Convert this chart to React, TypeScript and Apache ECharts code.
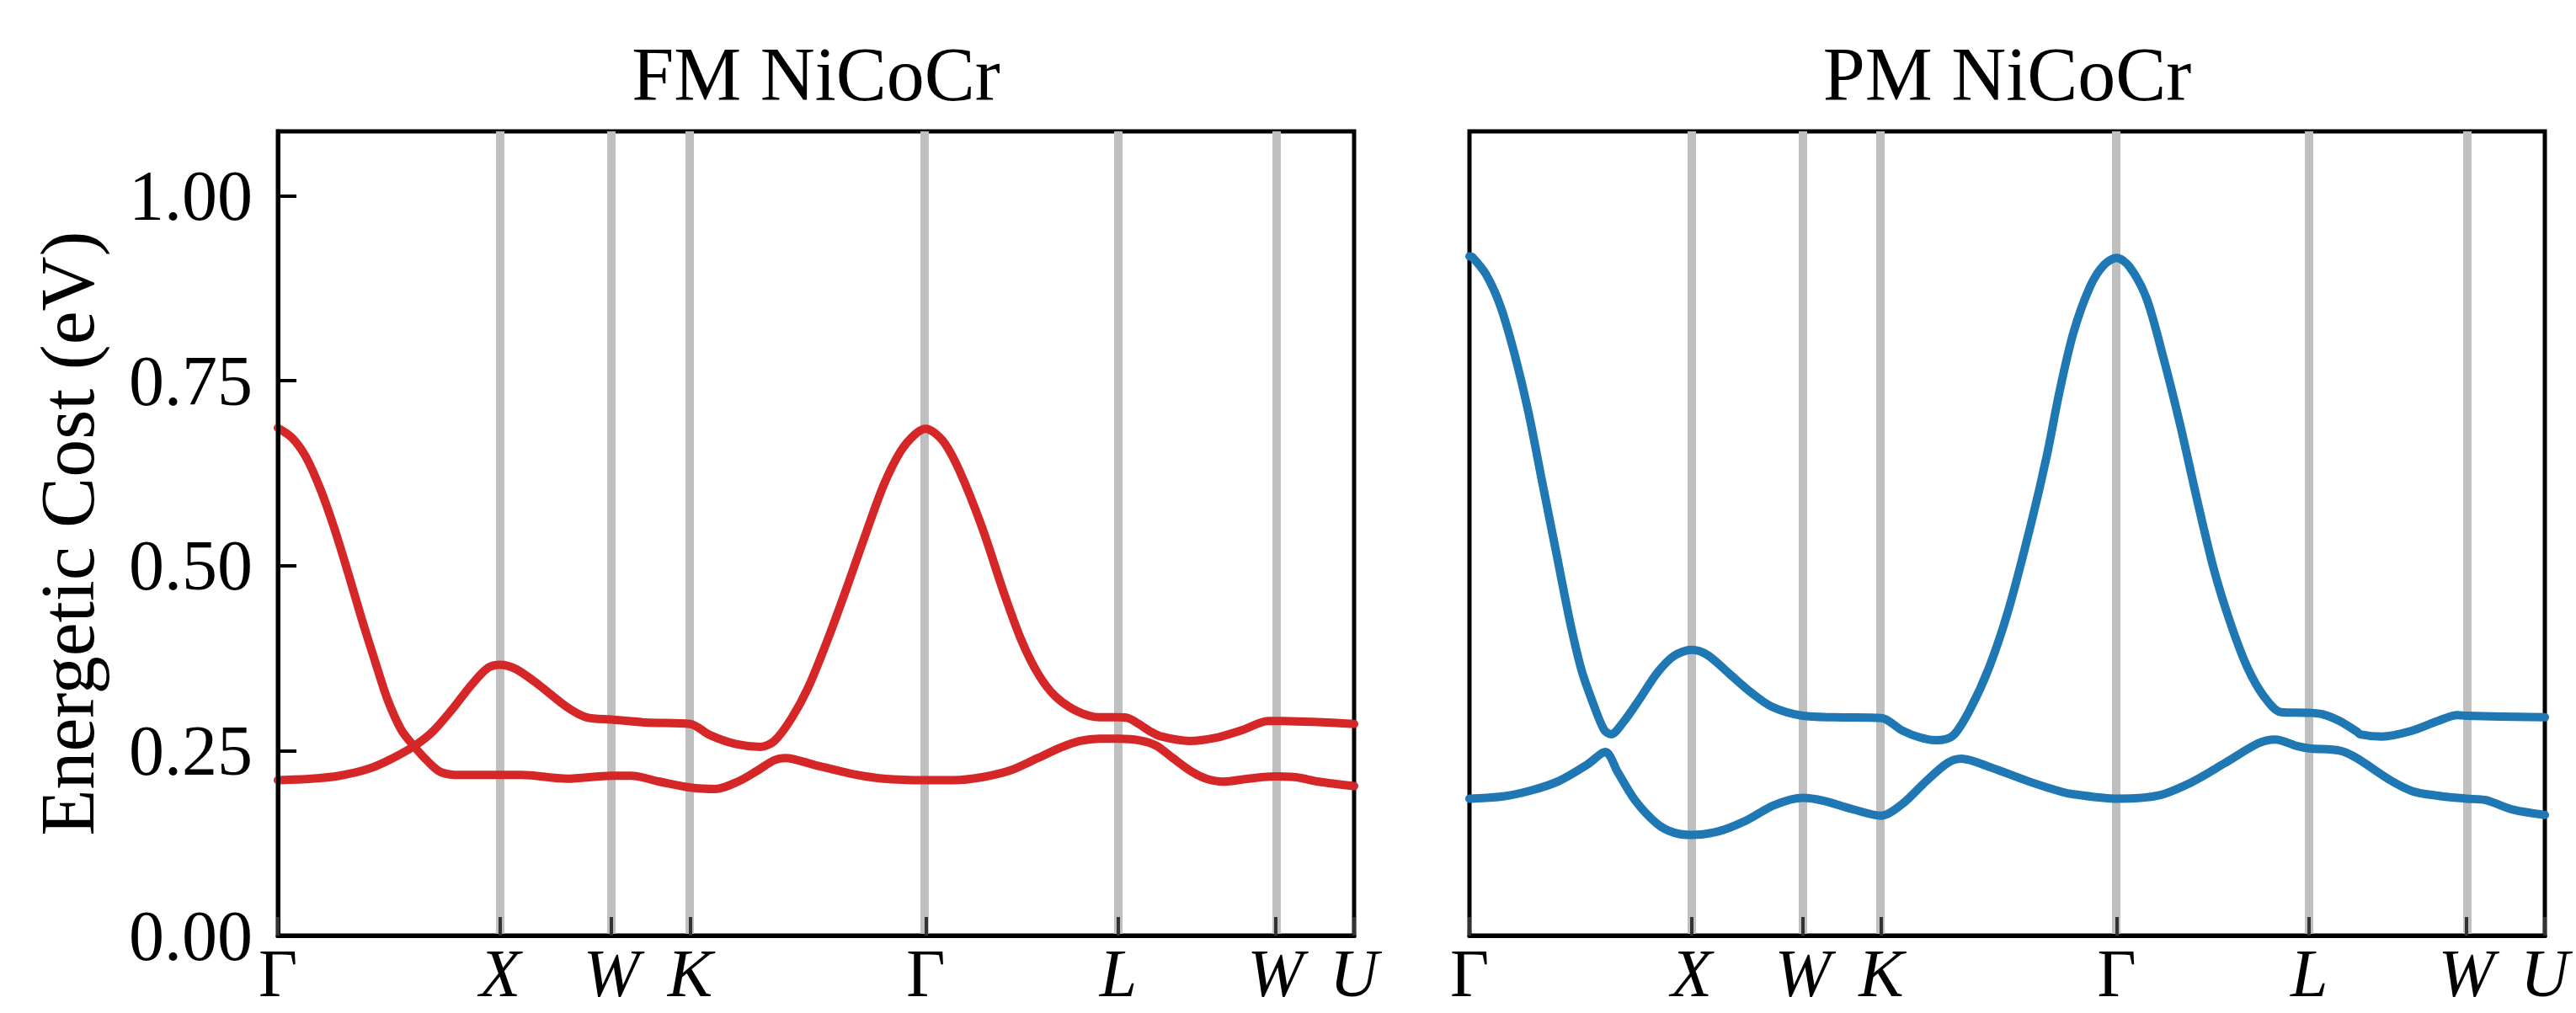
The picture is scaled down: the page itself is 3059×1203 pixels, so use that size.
import React, { useEffect, useRef } from "react";
import * as echarts from "echarts";

// High-symmetry points (cumulative path length, FCC: Γ-X-W-K-Γ-L-W-U)
const kPositions = [0, 1, 1.5, 1.8536, 2.9142, 3.7802, 4.4873, 4.8409];
const kLabels = ["Γ", "X", "W", "K", "Γ", "L", "W", "U"];
const kItalic = [false, true, true, true, false, true, true, true];
const yTicks = [0, 0.25, 0.5, 0.75, 1.0];
const panelTitles = ["FM NiCoCr", "PM NiCoCr"];
const yAxisTitle = "Energetic Cost (eV)";

// FM branch starting high at Γ
const fmAk = [0, 0.063, 0.126, 0.189, 0.252, 0.315, 0.379, 0.442, 0.492, 0.555, 0.612, 0.669, 0.732, 0.82, 1.0, 1.098, 1.3, 1.5, 1.59, 1.716, 1.854, 1.968, 2.069, 2.157, 2.233, 2.284, 2.41, 2.574, 2.725, 2.914, 3.04, 3.167, 3.293, 3.419, 3.52, 3.608, 3.697, 3.78, 3.873, 3.949, 4.025, 4.113, 4.176, 4.252, 4.365, 4.487, 4.58, 4.681, 4.841];
const fmAE = [0.686, 0.673, 0.647, 0.605, 0.552, 0.491, 0.426, 0.366, 0.32, 0.278, 0.256, 0.237, 0.221, 0.217, 0.217, 0.217, 0.212, 0.216, 0.216, 0.208, 0.2, 0.198, 0.208, 0.223, 0.237, 0.24, 0.231, 0.219, 0.212, 0.21, 0.21, 0.214, 0.223, 0.24, 0.254, 0.263, 0.266, 0.266, 0.264, 0.257, 0.24, 0.221, 0.212, 0.208, 0.212, 0.215, 0.214, 0.208, 0.202];
// FM branch starting low at Γ
const fmBk = [0, 0.151, 0.277, 0.404, 0.505, 0.612, 0.694, 0.782, 0.871, 0.946, 1.0, 1.072, 1.173, 1.3, 1.388, 1.5, 1.653, 1.854, 1.943, 2.057, 2.17, 2.233, 2.309, 2.385, 2.473, 2.561, 2.65, 2.725, 2.8, 2.864, 2.914, 2.99, 3.066, 3.167, 3.268, 3.343, 3.419, 3.495, 3.596, 3.697, 3.78, 3.823, 3.873, 3.924, 3.974, 4.1, 4.214, 4.34, 4.454, 4.487, 4.841];
const fmBE = [0.21, 0.212, 0.216, 0.225, 0.238, 0.256, 0.275, 0.305, 0.339, 0.362, 0.366, 0.36, 0.339, 0.309, 0.295, 0.292, 0.288, 0.286, 0.271, 0.259, 0.255, 0.263, 0.293, 0.335, 0.4, 0.472, 0.548, 0.609, 0.654, 0.677, 0.685, 0.669, 0.628, 0.552, 0.461, 0.4, 0.354, 0.324, 0.303, 0.295, 0.295, 0.294, 0.286, 0.276, 0.269, 0.263, 0.267, 0.278, 0.29, 0.29, 0.286];
// PM upper branch
const pmUk = [0, 0.013, 0.076, 0.139, 0.202, 0.265, 0.328, 0.391, 0.454, 0.505, 0.555, 0.606, 0.637, 0.694, 0.769, 0.845, 0.921, 1.0, 1.072, 1.173, 1.27, 1.363, 1.5, 1.647, 1.854, 1.949, 2.025, 2.101, 2.176, 2.252, 2.34, 2.429, 2.53, 2.6, 2.656, 2.719, 2.795, 2.858, 2.914, 2.971, 3.047, 3.123, 3.198, 3.274, 3.35, 3.426, 3.501, 3.577, 3.653, 3.78, 3.842, 3.917, 3.993, 4.01, 4.107, 4.233, 4.359, 4.447, 4.487, 4.841];
const pmUE = [0.918, 0.917, 0.893, 0.851, 0.787, 0.708, 0.612, 0.517, 0.422, 0.358, 0.315, 0.278, 0.272, 0.289, 0.321, 0.355, 0.378, 0.386, 0.379, 0.353, 0.328, 0.309, 0.297, 0.295, 0.294, 0.277, 0.268, 0.264, 0.27, 0.305, 0.363, 0.443, 0.559, 0.65, 0.735, 0.815, 0.878, 0.907, 0.916, 0.904, 0.862, 0.782, 0.692, 0.591, 0.496, 0.422, 0.363, 0.323, 0.302, 0.301, 0.299, 0.29, 0.276, 0.272, 0.269, 0.276, 0.29, 0.298, 0.297, 0.295];
// PM lower branch
const pmLk = [0, 0.151, 0.277, 0.404, 0.53, 0.612, 0.669, 0.745, 0.845, 0.921, 1.0, 1.123, 1.249, 1.37, 1.5, 1.596, 1.722, 1.854, 1.949, 2.05, 2.151, 2.214, 2.34, 2.53, 2.668, 2.719, 2.914, 3.097, 3.249, 3.4, 3.552, 3.627, 3.728, 3.78, 3.917, 3.993, 4.145, 4.246, 4.359, 4.487, 4.574, 4.7, 4.841];
const pmLE = [0.185, 0.188, 0.196, 0.209, 0.231, 0.248, 0.22, 0.183, 0.151, 0.139, 0.136, 0.141, 0.156, 0.176, 0.186, 0.182, 0.171, 0.162, 0.178, 0.207, 0.233, 0.239, 0.228, 0.207, 0.194, 0.191, 0.185, 0.189, 0.207, 0.233, 0.26, 0.265, 0.256, 0.253, 0.25, 0.24, 0.21, 0.195, 0.189, 0.185, 0.183, 0.17, 0.163];

const FM_COLOR = "#d62728";
const PM_COLOR = "#1f77b4";
const FONT = "Liberation Serif";

const zip = (xs: number[], ys: number[]) => xs.map((x, i) => [x, ys[i]]);

function nearestK(v: number) {
  let best = 0;
  for (let i = 1; i < kPositions.length; i++) {
    if (Math.abs(kPositions[i] - v) < Math.abs(kPositions[best] - v)) best = i;
  }
  return best;
}

export default function App() {
  const ref = useRef<HTMLDivElement>(null);
  useEffect(() => {
    if (!ref.current) return;
    const chart = echarts.init(ref.current, undefined, { renderer: "svg" });
    const kMax = kPositions[kPositions.length - 1];
    const grids = [
      { left: 330, top: 156, width: 1278, height: 955 },
      { left: 1745, top: 156, width: 1277, height: 955 },
    ];
    const xAxisFor = (gi: number) => ({
      type: "value",
      gridIndex: gi,
      min: 0,
      max: kMax,
      z: 6,
      axisLine: { show: true, onZero: false, lineStyle: { color: "#000", width: 5 } },
      splitLine: { show: false },
      axisTick: {
        show: true,
        inside: true,
        length: 22,
        customValues: kPositions,
        lineStyle: { color: "#333", width: 4 },
      },
      axisLabel: {
        customValues: kPositions,
        margin: 15,
        formatter: (v: number) => {
          const i = nearestK(v);
          return kItalic[i] ? `{it|${kLabels[i]}}` : `{up|${kLabels[i]}}`;
        },
        rich: {
          it: { fontFamily: FONT, fontStyle: "italic", fontSize: 80, lineHeight: 60, color: "#000" },
          up: { fontFamily: FONT, fontSize: 80, lineHeight: 60, color: "#000" },
        },
      },
    });
    const guideSeries = (gi: number) => ({
      type: "line",
      xAxisIndex: gi,
      yAxisIndex: gi,
      data: [],
      z: 1,
      silent: true,
      markLine: {
        silent: true,
        z: 1,
        symbol: ["none", "none"],
        label: { show: false },
        lineStyle: { color: "#bfbfbf", width: 10, type: "solid", opacity: 1 },
        emphasis: { disabled: true },
        data: kPositions.slice(1, -1).map((v) => ({ xAxis: v })),
      },
    });
    const curve = (gi: number, xs: number[], ys: number[], color: string) => ({
      type: "line",
      xAxisIndex: gi,
      yAxisIndex: gi,
      data: zip(xs, ys),
      showSymbol: false,
      smooth: 0.3,
      z: 3,
      lineStyle: { color, width: 10, cap: "round", join: "round" },
      emphasis: { disabled: true },
    });
    chart.setOption({
      animation: false,
      textStyle: { fontFamily: FONT },
      grid: grids.map((g) => ({
        ...g,
        show: true,
        borderColor: "#000",
        borderWidth: 5,
        backgroundColor: "transparent",
        containLabel: false,
      })),
      xAxis: [xAxisFor(0), xAxisFor(1)],
      yAxis: [
        {
          type: "value",
          gridIndex: 0,
          min: 0,
          max: 1.087,
          z: 6,
          axisLine: { show: true, onZero: false, lineStyle: { color: "#000", width: 5 } },
          splitLine: { show: false },
          axisTick: {
            show: true,
            inside: true,
            length: 22,
            customValues: yTicks,
            lineStyle: { color: "#000", width: 4 },
          },
          axisLabel: {
            customValues: yTicks,
            formatter: (v: number) => v.toFixed(2),
            fontSize: 84,
            color: "#000",
            fontFamily: FONT,
            margin: 30,
          },
          name: yAxisTitle,
          nameLocation: "middle",
          nameGap: 205,
          nameTextStyle: { fontSize: 90, color: "#000", fontFamily: FONT },
        },
        {
          type: "value",
          gridIndex: 1,
          min: 0,
          max: 1.087,
          show: false,
        },
      ],
      graphic: panelTitles.map((t, i) => ({
        type: "text",
        x: grids[i].left + grids[i].width / 2,
        y: 133,
        style: {
          text: t,
          font: `90px "${FONT}"`,
          fill: "#000",
          textAlign: "center",
          textVerticalAlign: "bottom",
        },
      })),
      series: [
        guideSeries(0),
        guideSeries(1),
        curve(0, fmAk, fmAE, FM_COLOR),
        curve(0, fmBk, fmBE, FM_COLOR),
        curve(1, pmUk, pmUE, PM_COLOR),
        curve(1, pmLk, pmLE, PM_COLOR),
      ],
    });
    return () => chart.dispose();
  }, []);
  return (
    <div
      ref={ref}
      style={{ position: "fixed", left: 0, top: 0, width: 3059, height: 1203, background: "#fff" }}
    />
  );
}
